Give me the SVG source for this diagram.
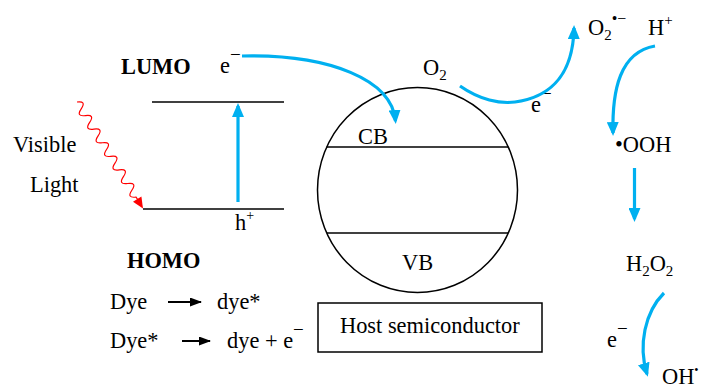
<svg xmlns="http://www.w3.org/2000/svg" width="701" height="388" viewBox="0 0 701 388">
<style>
text{font-family:"Liberation Serif","Times New Roman",serif;font-size:22.4px;fill:#000}
.b{font-weight:bold}
.blk{stroke:#000;stroke-width:1.5;fill:none}
.blue{stroke:#00B0F0;stroke-width:3.2;fill:none;marker-end:url(#ab)}
.barr{stroke:#000;stroke-width:2;fill:none;marker-end:url(#ak)}
</style>
<defs>
<marker id="ab" markerUnits="userSpaceOnUse" viewBox="0 0 14 12" markerWidth="14" markerHeight="12" refX="11" refY="6" orient="auto"><path d="M0,0 L14,6 L0,12 z" fill="#00B0F0"/></marker>
<marker id="ak" markerUnits="userSpaceOnUse" viewBox="0 0 12 9" markerWidth="12" markerHeight="9" refX="11" refY="4.5" orient="auto"><path d="M0,0 L12,4.5 L0,9 z" fill="#000"/></marker>
</defs>
<rect width="701" height="388" fill="#fff"/>

<g id="dye-levels">
<text class="b" x="121" y="74">LUMO</text>
<text x="220" y="73">e<tspan font-size="19" dy="-12">−</tspan></text>
<line class="blk" x1="152" y1="102" x2="284" y2="102"/>
<line class="blk" x1="143" y1="209" x2="284" y2="209"/>
<text x="235" y="230">h<tspan font-size="14" dy="-10">+</tspan></text>
<text class="b" x="127" y="268">HOMO</text>
</g>

<g id="visible-light">
<text x="13" y="152">Visible</text>
<text x="30" y="192">Light</text>
<path d="M77,102 Q86.75,100.65 81.22,108.79 t4.22,6.79 t4.22,6.79 t4.22,6.79 t4.22,6.79 t4.22,6.79 t4.22,6.79 t4.22,6.79 t4.22,6.79 t4.22,6.79 t4.22,6.79 t4.22,6.79 t4.22,6.79 t4.22,6.79 L138,200" stroke="#FF0000" stroke-width="1.2" fill="none"/>
<polygon points="143,208.5 141.4,196.6 133,201.8" fill="#FF0000"/>
</g>

<g id="semiconductor">
<ellipse class="blk" cx="417.5" cy="190" rx="100" ry="102.5"/>
<line class="blk" x1="326.5" y1="147" x2="508.5" y2="147"/>
<line class="blk" x1="327" y1="233" x2="508" y2="233"/>
<text x="358" y="144">CB</text>
<text x="402" y="270">VB</text>
</g>

<g id="host">
<rect class="blk" x="318" y="303" width="224" height="49"/>
<text x="340" y="333">Host semiconductor</text>
</g>

<g id="reactions">
<text x="110" y="309">Dye</text>
<text x="217" y="309">dye*</text>
<text x="110" y="348">Dye*</text>
<text x="227" y="348">dye + e<tspan font-size="19" dy="-12">−</tspan></text>
</g>

<g id="o2">
<text x="423" y="75">O<tspan font-size="15" dy="5">2</tspan></text>
</g>
<g id="e-o2">
<text x="531" y="112">e<tspan font-size="19" dy="-12">−</tspan></text>
</g>
<g id="superoxide">
<text x="588" y="35">O<tspan font-size="15" dy="5">2</tspan><tspan font-size="16" dy="-16">•−</tspan></text>
</g>
<g id="proton">
<text x="648" y="35">H<tspan font-size="15" dy="-10">+</tspan></text>
</g>
<g id="ooh">
<text x="615" y="152">•OOH</text>
</g>
<g id="h2o2">
<text x="626" y="271">H<tspan font-size="15" dy="5">2</tspan><tspan dy="-5">O</tspan><tspan font-size="15" dy="5">2</tspan></text>
</g>
<g id="e-h2o2">
<text x="607" y="347">e<tspan font-size="19" dy="-12">−</tspan></text>
</g>
<g id="oh">
<text x="662" y="384">OH<tspan font-size="12" dy="-10">•</tspan></text>
</g>

<g id="connectors">
<path class="blue" d="M238,202 L238,106"/>
<path class="blue" d="M242,56 C330,54 392,80 395.5,121"/>
<path class="blue" d="M460,86 C480,100 500,104 515,102 C545,98 573,80 574,28"/>
<path class="blue" d="M655,46 C620,52 612,90 613,133"/>
<path class="blue" d="M634.5,168 L634.5,219"/>
<path class="blue" d="M664,293 C645,312 638,345 647,374"/>
<path class="barr" d="M168,302 L201,302"/>
<path class="barr" d="M182,341 L210,341"/>
</g>
</svg>
